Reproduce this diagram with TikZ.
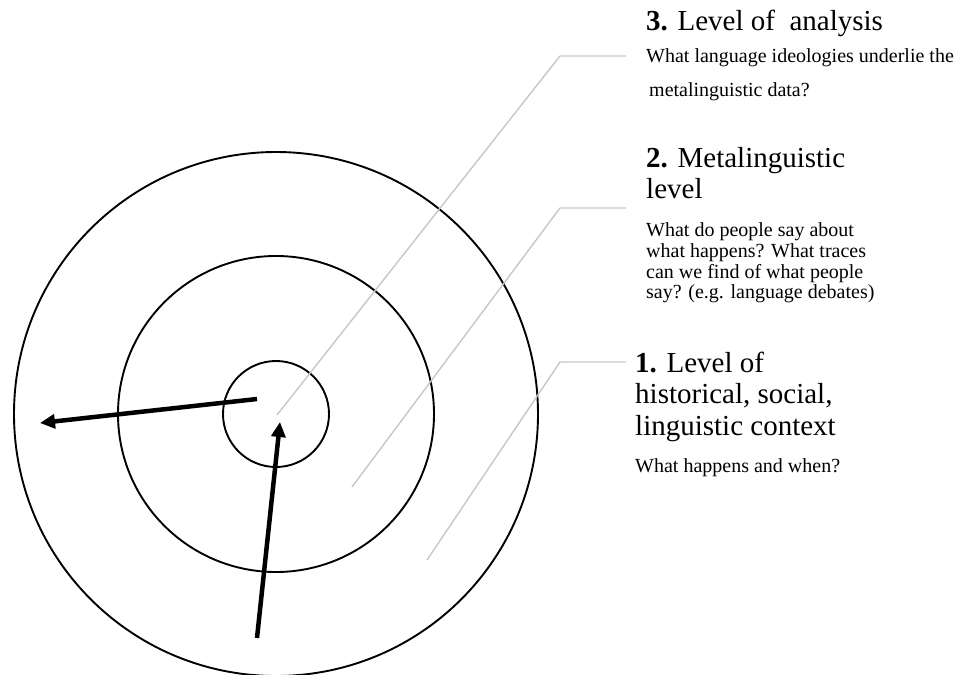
\documentclass[tikz,border=0pt]{standalone}
\usepackage{fontspec}
\setmainfont{Liberation Serif}
\usetikzlibrary{arrows.meta}

\begin{document}
\begin{tikzpicture}[x=1pt,y=-1pt,
  ring/.style={circle,draw=black,line width=1.9pt,inner sep=0pt},
  leader/.style={draw=black!22,line width=1.4pt},
  bigarrow/.style={line width=4.5pt,-{Triangle[length=15pt,width=14pt]}},
  head/.style={anchor=base west,inner sep=0pt,font=\fontsize{29}{31}\selectfont},
  body/.style={anchor=base west,inner sep=0pt,font=\fontsize{20}{21}\selectfont}]
  \useasboundingbox (0,0) rectangle (962,675);

  % concentric levels
  \coordinate (c) at (276,414);
  \node[ring,minimum size=106pt] (inner) at (c) {};
  \node[ring,minimum size=316pt] (middle) at (c) {};
  \node[ring,minimum size=524pt] (outer) at (c) {};

  % labels
  \node[head] (h3) at (646,30) {\textbf{3.} Level of\ \ analysis};
  \node[body] (b3a) at (646,62) {What language ideologies underlie the};
  \node[body] (b3b) at (649,96) {metalinguistic data?};

  \node[head] (h2a) at (646,167) {\textbf{2.} Metalinguistic};
  \node[head] (h2b) at (646,198) {level};
  \node[body] (b2a) at (646,236) {What do people say about};
  \node[body] (b2b) at (646,257) {what happens? What traces};
  \node[body] (b2c) at (646,278) {can we find of what people};
  \node[body] (b2d) at (646,298) {say? (e.g. language debates)};

  \node[head] (h1a) at (635,372) {\textbf{1.} Level of};
  \node[head] (h1b) at (635,403) {historical, social,};
  \node[head] (h1c) at (635,435) {linguistic context};
  \node[body] (b1) at (635,472) {What happens and when?};

  % leader lines from each level to its label
  \coordinate (l3s) at (277,415);
  \coordinate (l3k) at (560,56);
  \coordinate (l3e) at (626,56);
  \coordinate (l2s) at (352,487);
  \coordinate (l2k) at (560,208);
  \coordinate (l2e) at (626,208);
  \coordinate (l1s) at (427,560);
  \coordinate (l1k) at (560,362);
  \coordinate (l1e) at (626,362);
  \draw[leader] (l3s) -- (l3k) -- (l3e);
  \draw[leader] (l2s) -- (l2k) -- (l2e);
  \draw[leader] (l1s) -- (l1k) -- (l1e);

  % arrows
  \coordinate (a1s) at (257,399);
  \coordinate (a1e) at (40,423);
  \coordinate (a2s) at (257,638);
  \coordinate (a2e) at (280,422);
  \draw[bigarrow] (a1s) -- (a1e);
  \draw[bigarrow] (a2s) -- (a2e);
\end{tikzpicture}
\end{document}
